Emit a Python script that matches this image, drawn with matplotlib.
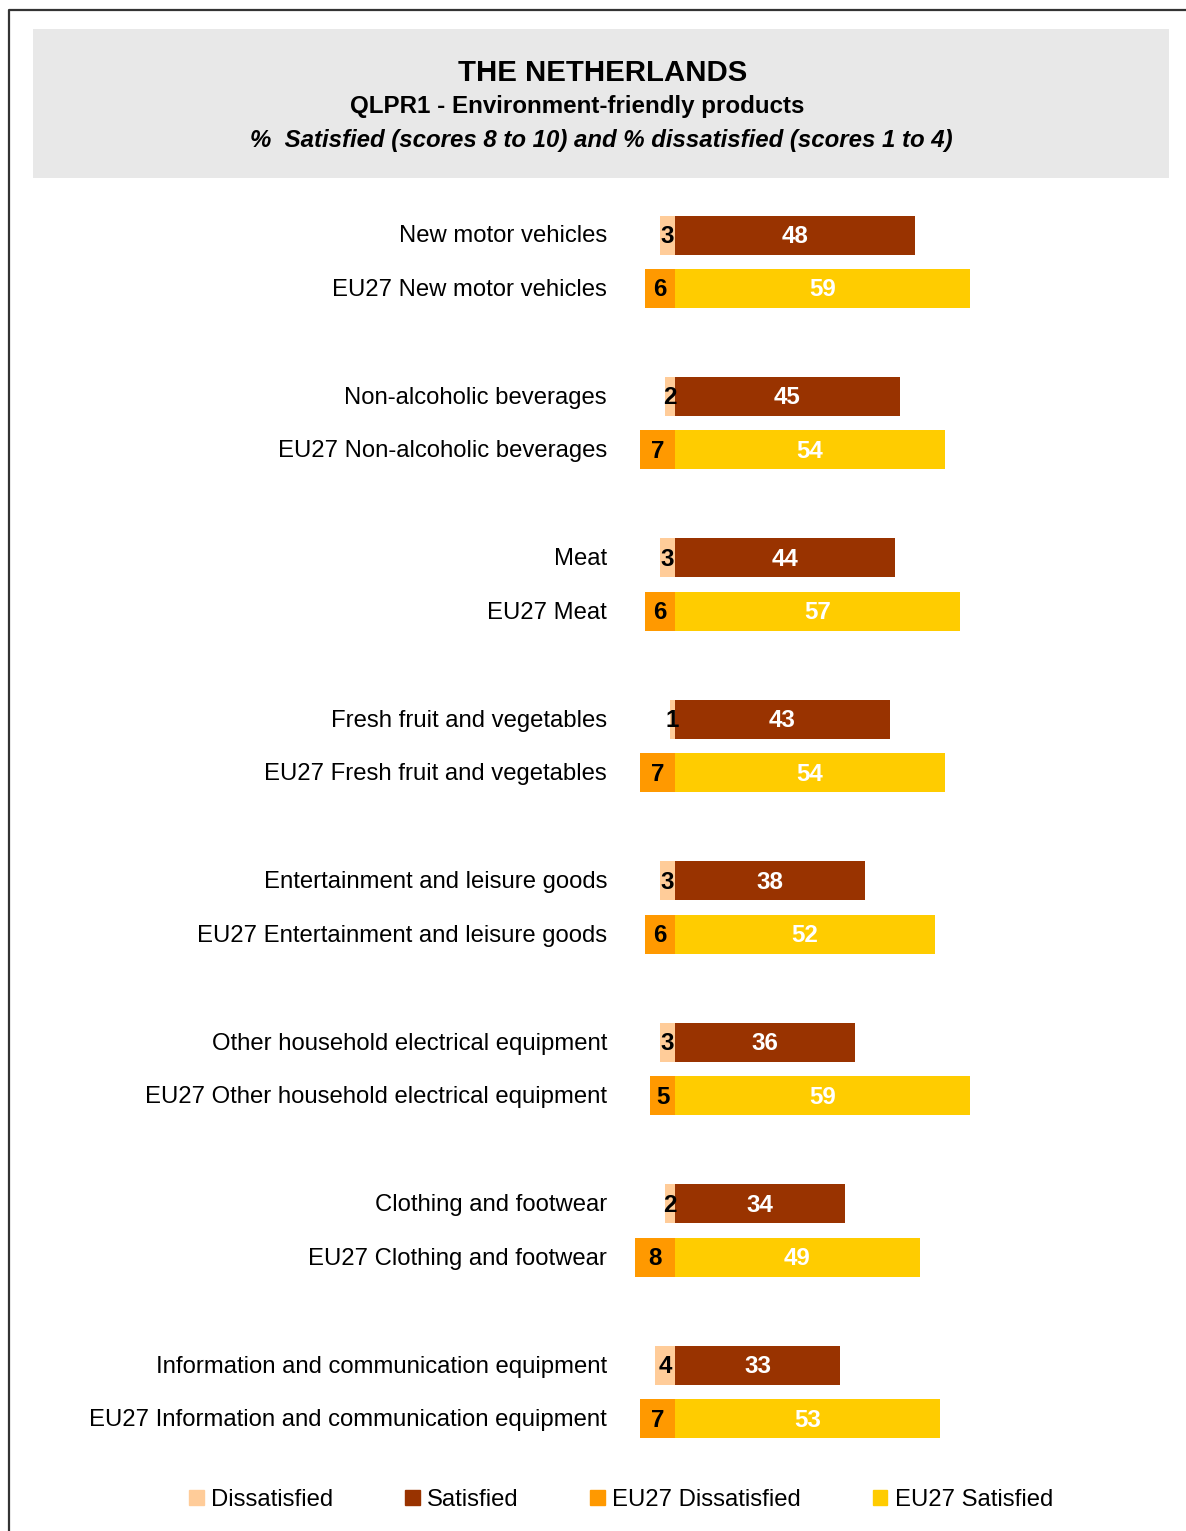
import matplotlib.pyplot as plt
from matplotlib.patches import Rectangle, Patch

plt.rcParams['font.family'] = ['Liberation Sans', 'DejaVu Sans']

categories = ["New motor vehicles", "Non-alcoholic beverages", "Meat",
              "Fresh fruit and vegetables", "Entertainment and leisure goods",
              "Other household electrical equipment", "Clothing and footwear",
              "Information and communication equipment"]
nl_dissatisfied = [3, 2, 3, 1, 3, 3, 2, 4]
nl_satisfied = [48, 45, 44, 43, 38, 36, 34, 33]
eu_dissatisfied = [6, 7, 6, 7, 6, 5, 8, 7]
eu_satisfied = [59, 54, 57, 54, 52, 59, 49, 53]

c_dis = "#FFCC99"
c_sat = "#993300"
c_eu_dis = "#FF9900"
c_eu_sat = "#FFCC00"

W, H = 1186, 1531
fig = plt.figure(figsize=(W / 100, H / 100), dpi=100)

# frame + title box, in pixel units
frame = fig.add_axes([0, 0, 1, 1])
frame.set_xlim(0, W)
frame.set_ylim(H, 0)
frame.axis("off")
frame.plot([9, 9, W], [H, 10, 10], color="#333333", lw=1.6)
frame.add_patch(Rectangle((33, 29), 1136, 149, facecolor="#E8E8E8", edgecolor="none"))
frame.text(603, 73, "THE NETHERLANDS", ha="center", va="center", fontsize=21.2, fontweight="bold")
frame.text(577, 107, "QLPR1 - Environment-friendly products", ha="center", va="center",
           fontsize=17.4, fontweight="bold")
frame.text(601, 140, "%  Satisfied (scores 8 to 10) and % dissatisfied (scores 1 to 4)",
           ha="center", va="center", fontsize=17.3, fontweight="bold", style="italic")

# bar area: x in percentage points, y in pixels
ax = fig.add_axes([0, 0, 1, 1])
ax.set_xlim(-135, (W - 675) / 5)
ax.set_ylim(H, 0)
ax.axis("off")
ax.patch.set_alpha(0)

bar_h = 39
group_step = 161.43
pair_gap = 53.5
label_x = -13.6
txt_dy = 1.5

for i, cat in enumerate(categories):
    y_nl = 235 + i * group_step
    y_eu = y_nl + pair_gap
    rows = [(y_nl, cat, nl_dissatisfied[i], nl_satisfied[i], c_dis, c_sat),
            (y_eu, "EU27 " + cat, eu_dissatisfied[i], eu_satisfied[i], c_eu_dis, c_eu_sat)]
    for y, lab, d, s, cd, cs in rows:
        ax.barh(y, -d, height=bar_h, color=cd, left=0)
        ax.barh(y, s, height=bar_h, color=cs, left=0)
        ax.text(label_x, y + txt_dy, lab, ha="right", va="center", fontsize=17.2)
        ax.text(-d / 2, y + txt_dy, str(d), ha="center", va="center", fontsize=17.4,
                fontweight="bold", color="black")
        ax.text(s / 2, y + txt_dy, str(s), ha="center", va="center", fontsize=17.4,
                fontweight="bold", color="white")

handles = [Patch(color=c_dis, label="Dissatisfied"),
           Patch(color=c_sat, label="Satisfied"),
           Patch(color=c_eu_dis, label="EU27 Dissatisfied"),
           Patch(color=c_eu_sat, label="EU27 Satisfied")]
fig.legend(handles=handles, loc="center", bbox_to_anchor=(621 / W, 1 - 1500 / H),
           ncol=4, frameon=False, fontsize=17.2, handlelength=0.62, handleheight=0.62,
           handletextpad=0.3, columnspacing=3.0, borderpad=0)

fig.savefig("out.png", dpi=100)
